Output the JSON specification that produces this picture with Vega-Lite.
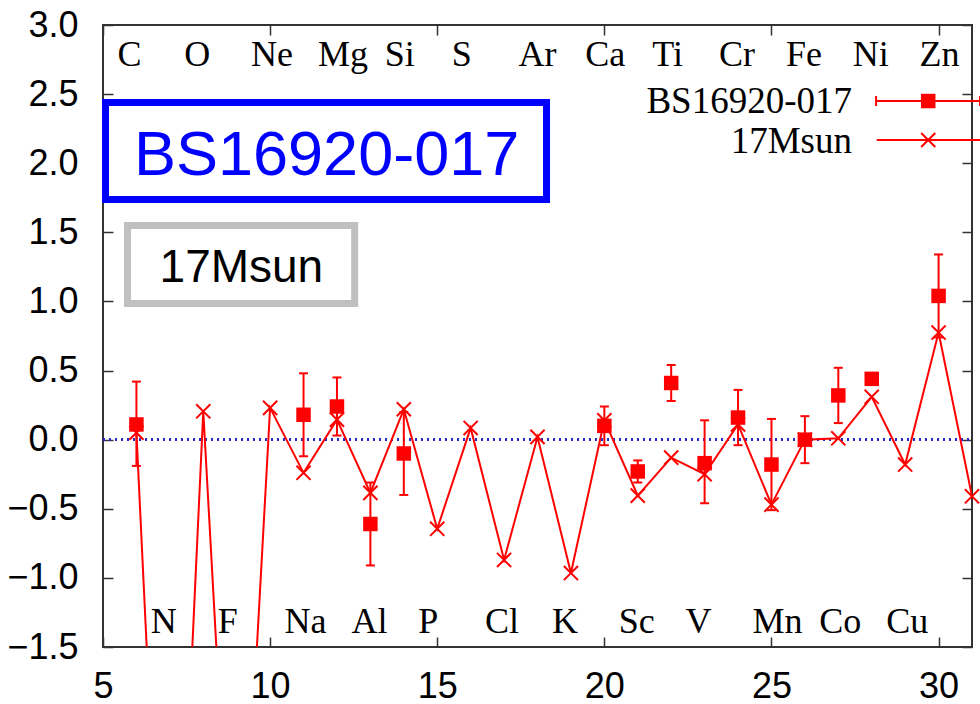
{
  "$schema": "https://vega.github.io/schema/vega-lite/v6.json",
  "width": 869,
  "height": 622,
  "autosize": "none",
  "padding": {"left": 103, "top": 25, "right": 8, "bottom": 57},
  "background": "white",
  "config": {
    "view": {"stroke": "#333333", "strokeWidth": 2},
    "axis": {
      "domain": false,
      "grid": false,
      "title": null,
      "tickColor": "#333333",
      "tickWidth": 1.5,
      "tickSize": -10,
      "labelFont": "Liberation Sans",
      "labelFontSize": 36,
      "labelColor": "#000000"
    }
  },
  "resolve": {"axis": {"x": "independent", "y": "independent"}},
  "datasets": {
    "model": [
      {"z": 6, "v": 0.05}, {"z": 7, "v": -5.0}, {"z": 8, "v": 0.205}, {"z": 9, "v": -4.15},
      {"z": 10, "v": 0.23}, {"z": 11, "v": -0.24}, {"z": 12, "v": 0.145}, {"z": 13, "v": -0.385},
      {"z": 14, "v": 0.22}, {"z": 15, "v": -0.645}, {"z": 16, "v": 0.085}, {"z": 17, "v": -0.87},
      {"z": 18, "v": 0.02}, {"z": 19, "v": -0.965}, {"z": 20, "v": 0.14}, {"z": 21, "v": -0.405},
      {"z": 22, "v": -0.13}, {"z": 23, "v": -0.25}, {"z": 24, "v": 0.11}, {"z": 25, "v": -0.47},
      {"z": 26, "v": 0.0}, {"z": 27, "v": 0.01}, {"z": 28, "v": 0.31}, {"z": 29, "v": -0.18},
      {"z": 30, "v": 0.775}, {"z": 31, "v": -0.41}
    ],
    "obs": [
      {"z": 6, "v": 0.11, "lo": -0.19, "hi": 0.42},
      {"z": 11, "v": 0.18, "lo": -0.12, "hi": 0.48},
      {"z": 12, "v": 0.24, "lo": 0.03, "hi": 0.45},
      {"z": 13, "v": -0.61, "lo": -0.91, "hi": -0.31},
      {"z": 14, "v": -0.10, "lo": -0.40, "hi": 0.20},
      {"z": 20, "v": 0.10, "lo": -0.04, "hi": 0.24},
      {"z": 21, "v": -0.23, "lo": -0.31, "hi": -0.15},
      {"z": 22, "v": 0.41, "lo": 0.28, "hi": 0.54},
      {"z": 23, "v": -0.17, "lo": -0.46, "hi": 0.14},
      {"z": 24, "v": 0.16, "lo": -0.04, "hi": 0.36},
      {"z": 25, "v": -0.18, "lo": -0.51, "hi": 0.15},
      {"z": 26, "v": 0.0, "lo": -0.17, "hi": 0.17},
      {"z": 27, "v": 0.32, "lo": 0.12, "hi": 0.52},
      {"z": 28, "v": 0.44, "lo": 0.41, "hi": 0.47},
      {"z": 30, "v": 1.04, "lo": 0.74, "hi": 1.34}
    ],
    "elements": [
      {"el": "C", "z": 6, "row": "top"}, {"el": "N", "z": 7, "row": "bottom"},
      {"el": "O", "z": 8, "row": "top"}, {"el": "F", "z": 9, "row": "bottom"},
      {"el": "Ne", "z": 10, "row": "top"}, {"el": "Na", "z": 11, "row": "bottom"},
      {"el": "Mg", "z": 12, "row": "top"}, {"el": "Al", "z": 13, "row": "bottom"},
      {"el": "Si", "z": 14, "row": "top"}, {"el": "P", "z": 15, "row": "bottom"},
      {"el": "S", "z": 16, "row": "top"}, {"el": "Cl", "z": 17, "row": "bottom"},
      {"el": "Ar", "z": 18, "row": "top"}, {"el": "K", "z": 19, "row": "bottom"},
      {"el": "Ca", "z": 20, "row": "top"}, {"el": "Sc", "z": 21, "row": "bottom"},
      {"el": "Ti", "z": 22, "row": "top"}, {"el": "V", "z": 23, "row": "bottom"},
      {"el": "Cr", "z": 24, "row": "top"}, {"el": "Mn", "z": 25, "row": "bottom"},
      {"el": "Fe", "z": 26, "row": "top"}, {"el": "Co", "z": 27, "row": "bottom"},
      {"el": "Ni", "z": 28, "row": "top"}, {"el": "Cu", "z": 29, "row": "bottom"},
      {"el": "Zn", "z": 30, "row": "top"}
    ]
  },
  "layer": [
    {
      "data": {"name": "model"},
      "mark": {"type": "rule", "color": "#2b2bc8", "strokeWidth": 2, "strokeDash": [2, 4]},
      "encoding": {
        "x": {"datum": 5, "type": "quantitative", "axis": null},
        "x2": {"datum": 31},
        "y": {"datum": 0, "type": "quantitative", "axis": null}
      }
    },
    {
      "data": {"name": "model"},
      "mark": {"type": "line", "color": "#ff0000", "strokeWidth": 2, "clip": true},
      "encoding": {
        "x": {
          "field": "z", "type": "quantitative",
          "scale": {"domain": [5, 31], "nice": false, "zero": false},
          "axis": {"orient": "bottom", "values": [5, 10, 15, 20, 25, 30], "format": "d", "labelPadding": 32, "labelFlush": false}
        },
        "y": {
          "field": "v", "type": "quantitative",
          "scale": {"domain": [-1.5, 3.0], "nice": false, "zero": false},
          "axis": {"orient": "left", "values": [-1.5, -1.0, -0.5, 0.0, 0.5, 1.0, 1.5, 2.0, 2.5, 3.0], "format": ".1f", "labelPadding": 35, "labelFlush": false}
        }
      }
    },
    {
      "data": {"name": "model"},
      "mark": {"type": "point", "shape": "M-1,-1L1,1M-1,1L1,-1", "filled": false, "stroke": "#ff0000", "strokeWidth": 2, "size": 200, "opacity": 1},
      "encoding": {
        "x": {"field": "z", "type": "quantitative", "axis": {"orient": "top", "values": [5, 10, 15, 20, 25, 30], "labels": false}},
        "y": {"field": "v", "type": "quantitative", "axis": {"orient": "right", "values": [-1.5, -1.0, -0.5, 0.0, 0.5, 1.0, 1.5, 2.0, 2.5, 3.0], "labels": false}}
      }
    },
    {
      "data": {"name": "obs"},
      "mark": {"type": "rule", "color": "#ff0000", "strokeWidth": 2},
      "encoding": {
        "x": {"field": "z", "type": "quantitative", "axis": null},
        "y": {"field": "lo", "type": "quantitative", "axis": null},
        "y2": {"field": "hi"}
      }
    },
    {
      "data": {"name": "obs"},
      "mark": {"type": "tick", "orient": "horizontal", "color": "#ff0000", "size": 9, "thickness": 2, "opacity": 1},
      "encoding": {
        "x": {"field": "z", "type": "quantitative", "axis": null},
        "y": {"field": "lo", "type": "quantitative", "axis": null}
      }
    },
    {
      "data": {"name": "obs"},
      "mark": {"type": "tick", "orient": "horizontal", "color": "#ff0000", "size": 9, "thickness": 2, "opacity": 1},
      "encoding": {
        "x": {"field": "z", "type": "quantitative", "axis": null},
        "y": {"field": "hi", "type": "quantitative", "axis": null}
      }
    },
    {
      "data": {"name": "obs"},
      "mark": {"type": "point", "shape": "square", "filled": true, "color": "#ff0000", "size": 210, "opacity": 1},
      "encoding": {
        "x": {"field": "z", "type": "quantitative", "axis": null},
        "y": {"field": "v", "type": "quantitative", "axis": null}
      }
    },
    {
      "data": {"name": "elements"},
      "transform": [{"filter": "datum.row === 'top'"}],
      "mark": {"type": "text", "font": "Liberation Serif", "fontSize": 36, "color": "#000000", "align": "left", "baseline": "alphabetic", "dx": -19},
      "encoding": {
        "x": {"field": "z", "type": "quantitative", "axis": null},
        "y": {"datum": 2.703, "type": "quantitative", "axis": null},
        "text": {"field": "el"}
      }
    },
    {
      "data": {"name": "elements"},
      "transform": [{"filter": "datum.row === 'bottom'"}],
      "mark": {"type": "text", "font": "Liberation Serif", "fontSize": 36, "color": "#000000", "align": "left", "baseline": "alphabetic", "dx": -19},
      "encoding": {
        "x": {"field": "z", "type": "quantitative", "axis": null},
        "y": {"datum": -1.40, "type": "quantitative", "axis": null},
        "text": {"field": "el"}
      }
    },
    {
      "data": {"values": [{"label": "BS16920-017"}]},
      "mark": {"type": "rect", "fill": "#ffffff", "stroke": "#0000ff", "strokeWidth": 7, "clip": false},
      "encoding": {
        "x": {"datum": 5.075, "type": "quantitative", "axis": null},
        "x2": {"datum": 18.27},
        "y": {"datum": 2.439, "type": "quantitative", "axis": null},
        "y2": {"datum": 1.737}
      }
    },
    {
      "data": {"values": [{"label": "BS16920-017"}]},
      "mark": {"type": "text", "font": "Liberation Sans", "fontSize": 63, "color": "#0000ff", "align": "center", "baseline": "alphabetic"},
      "encoding": {
        "x": {"datum": 11.69, "type": "quantitative", "axis": null},
        "y": {"datum": 1.915, "type": "quantitative", "axis": null},
        "text": {"field": "label"}
      }
    },
    {
      "data": {"values": [{"label": "17Msun"}]},
      "mark": {"type": "rect", "fill": "#ffffff", "stroke": "#c0c0c0", "strokeWidth": 7},
      "encoding": {
        "x": {"datum": 5.733, "type": "quantitative", "axis": null},
        "x2": {"datum": 12.53},
        "y": {"datum": 1.549, "type": "quantitative", "axis": null},
        "y2": {"datum": 0.985}
      }
    },
    {
      "data": {"values": [{"label": "17Msun"}]},
      "mark": {"type": "text", "font": "Liberation Sans", "fontSize": 46, "color": "#000000", "align": "center", "baseline": "alphabetic"},
      "encoding": {
        "x": {"datum": 9.14, "type": "quantitative", "axis": null},
        "y": {"datum": 1.140, "type": "quantitative", "axis": null},
        "text": {"field": "label"}
      }
    },
    {
      "data": {"values": [{"label": "BS16920-017"}]},
      "mark": {"type": "text", "font": "Liberation Serif", "fontSize": 37, "color": "#000000", "align": "right", "baseline": "alphabetic"},
      "encoding": {
        "x": {"datum": 27.41, "type": "quantitative", "axis": null},
        "y": {"datum": 2.363, "type": "quantitative", "axis": null},
        "text": {"field": "label"}
      }
    },
    {
      "data": {"values": [{"label": "17Msun"}]},
      "mark": {"type": "text", "font": "Liberation Serif", "fontSize": 37, "color": "#000000", "align": "right", "baseline": "alphabetic"},
      "encoding": {
        "x": {"datum": 27.41, "type": "quantitative", "axis": null},
        "y": {"datum": 2.074, "type": "quantitative", "axis": null},
        "text": {"field": "label"}
      }
    },
    {
      "data": {"values": [{"label": "BS16920-017"}]},
      "mark": {"type": "rule", "color": "#ff0000", "strokeWidth": 2, "clip": false},
      "encoding": {
        "x": {"datum": 28.13, "type": "quantitative", "axis": null},
        "x2": {"datum": 31.24},
        "y": {"datum": 2.450, "type": "quantitative", "axis": null}
      }
    },
    {
      "data": {"values": [{"end": 28.13}, {"end": 31.24}]},
      "mark": {"type": "tick", "orient": "vertical", "color": "#ff0000", "size": 10, "thickness": 2, "opacity": 1, "clip": false},
      "encoding": {
        "x": {"field": "end", "type": "quantitative", "axis": null},
        "y": {"datum": 2.450, "type": "quantitative", "axis": null}
      }
    },
    {
      "data": {"values": [{"label": "BS16920-017"}]},
      "mark": {"type": "point", "shape": "square", "filled": true, "color": "#ff0000", "size": 210, "opacity": 1},
      "encoding": {
        "x": {"datum": 29.69, "type": "quantitative", "axis": null},
        "y": {"datum": 2.450, "type": "quantitative", "axis": null}
      }
    },
    {
      "data": {"values": [{"label": "17Msun"}]},
      "mark": {"type": "rule", "color": "#ff0000", "strokeWidth": 2, "clip": false},
      "encoding": {
        "x": {"datum": 28.15, "type": "quantitative", "axis": null},
        "x2": {"datum": 31.24},
        "y": {"datum": 2.168, "type": "quantitative", "axis": null}
      }
    },
    {
      "data": {"values": [{"label": "17Msun"}]},
      "mark": {"type": "point", "shape": "M-1,-1L1,1M-1,1L1,-1", "filled": false, "stroke": "#ff0000", "strokeWidth": 2, "size": 200, "opacity": 1},
      "encoding": {
        "x": {"datum": 29.69, "type": "quantitative", "axis": null},
        "y": {"datum": 2.168, "type": "quantitative", "axis": null}
      }
    }
  ]
}
